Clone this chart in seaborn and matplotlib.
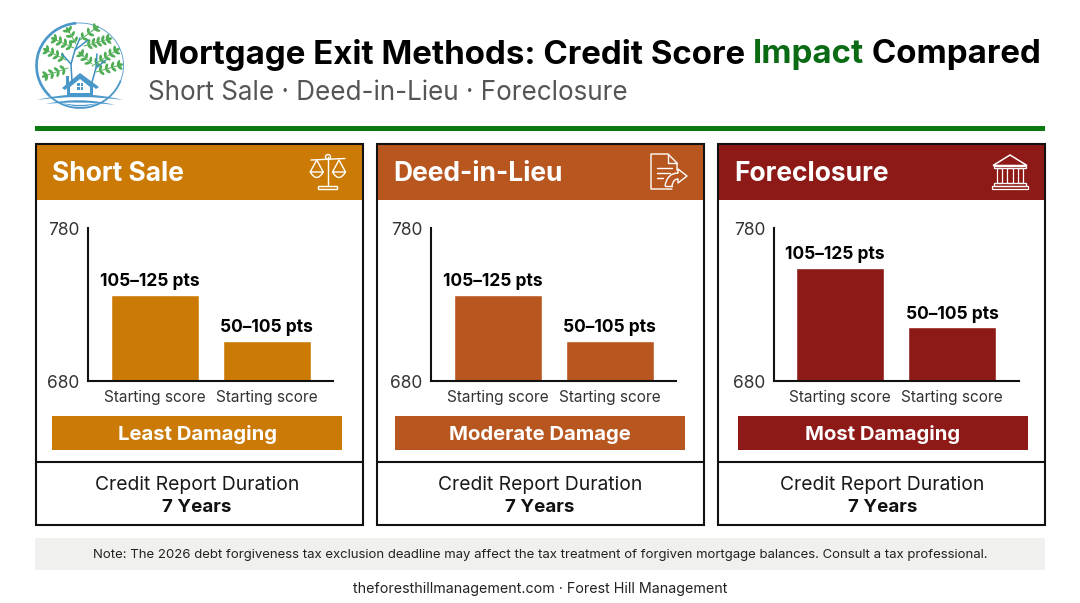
import matplotlib
matplotlib.use("Agg")
import matplotlib.pyplot as plt
from matplotlib.patches import Rectangle, Arc, Ellipse, Polygon, PathPatch
from matplotlib.path import Path
import numpy as np
import seaborn as sns

# Chart content
panel_names = ["Short Sale", "Deed-in-Lieu", "Foreclosure"]
panel_colors = ["#CB7A06", "#B8561F", "#8E1A17"]
severity = ["Least Damaging", "Moderate Damage", "Most Damaging"]
bar_categories = ["Starting score A", "Starting score B"]
tick_names = ["Starting score", "Starting score"]
short_sale_scores = [736, 706]
deed_scores = [736, 706]
foreclosure_scores = [754, 715]
point_labels = ["105–125 pts", "50–105 pts"]
score_ticks = [680, 780]
duration_label = "Credit Report Duration"
duration_value = "7 Years"
title_parts = ["Mortgage Exit Methods: Credit Score ", "Impact", " Compared"]
subtitle = "Short Sale · Deed-in-Lieu · Foreclosure"
note = ("Note: The 2026 debt forgiveness tax exclusion deadline may affect the tax "
        "treatment of forgiven mortgage balances. Consult a tax professional.")
footer = "theforesthillmanagement.com · Forest Hill Management"

W, H = 1080, 603
GREEN = "#0B7A12"
FONT = "Inter"

sns.set_theme(style="white")
plt.rcParams["font.family"] = [FONT, "DejaVu Sans"]

fig = plt.figure(figsize=(W / 100, H / 100), dpi=100, facecolor="white")
canvas = fig.add_axes([0, 0, 1, 1], zorder=0)
canvas.set_xlim(0, W)
canvas.set_ylim(H, 0)
canvas.axis("off")
renderer = fig.canvas.get_renderer()


def fitted(x, y, s, width, ha="left", **kw):
    """Place text whose font size is chosen so it spans the given pixel width."""
    t = canvas.text(x, y, s, ha=ha, va="center", fontsize=10, **kw)
    t.set_fontsize(10 * width / t.get_window_extent(renderer).width)
    return t


def rect(x0, y0, x1, y1, **kw):
    canvas.add_patch(Rectangle((x0, y0), x1 - x0, y1 - y0, **kw))


def line(xs, ys, color="white", lw=1.0):
    canvas.plot(xs, ys, color=color, lw=lw, solid_capstyle="round", solid_joinstyle="round")


def curve(p0, p1, p2, lw=1.0):
    canvas.add_patch(PathPatch(Path([p0, p1, p2], [Path.MOVETO, Path.CURVE3, Path.CURVE3]),
                               fc="none", ec="white", lw=lw))


def sprig(x0, y0, x1, y1, n=5, size=8):
    """A twig with paired leaves along it, ending in one tip leaf."""
    line([x0, x1], [y0, y1], color="#4FAE55", lw=0.7)
    ang = np.degrees(np.arctan2(y1 - y0, x1 - x0))
    for f in np.linspace(0.15, 0.9, n):
        cx, cy = x0 + f * (x1 - x0), y0 + f * (y1 - y0)
        for sgn in (-1, 1):
            a = np.radians(ang + sgn * 55)
            canvas.add_patch(Ellipse((cx + 3 * np.cos(a), cy + 3 * np.sin(a)), size * 0.75, size * 0.36,
                                     angle=ang + sgn * 55, color="#4FAE55", lw=0))
    canvas.add_patch(Ellipse((x1, y1), size * 0.8, size * 0.4, angle=ang, color="#4FAE55", lw=0))


def draw_logo():
    blue = "#4A97C9"
    # the ring is heavy on the left, fading to a hairline at the upper right
    canvas.add_patch(Arc((80, 65.5), 87, 85, theta1=135, theta2=265, color=blue, lw=1.9))
    canvas.add_patch(Arc((80, 65.5), 87, 85, theta1=20, theta2=135, color=blue, lw=1.3))
    canvas.add_patch(Arc((80, 65.5), 87, 85, theta1=265, theta2=380, color=blue, lw=0.6))
    # trunks
    for pts in ([(72, 82), (71, 64), (62, 54)], [(71, 64), (75, 50), (80, 38)],
                [(92, 82), (96, 68), (106, 60)], [(96, 68), (97, 54)], [(75, 50), (88, 40)]):
        xs, ys = zip(*pts)
        line(xs, ys, color="#3F8FBF", lw=1.1)
    # foliage
    sprig(66, 60, 46, 50, n=4)
    sprig(68, 68, 45, 76, n=4)
    sprig(74, 48, 54, 39, n=4)
    sprig(76, 44, 68, 30, n=3)
    sprig(80, 40, 96, 28, n=3)
    sprig(84, 46, 109, 39, n=5)
    sprig(92, 66, 117, 50, n=5)
    sprig(96, 72, 120, 65, n=4)
    sprig(92, 64, 81, 54, n=3)
    # house
    canvas.add_patch(Polygon([(62, 88), (80, 73), (99, 87), (96, 89), (80, 77), (65, 90)],
                             closed=True, fc=blue, ec="none"))
    rect(66, 76, 69, 86, fc=blue, ec="none")
    canvas.add_patch(Polygon([(67, 86), (80, 76), (93, 86), (93, 96), (67, 96)], closed=True, fc=blue, ec="none"))
    canvas.add_patch(Polygon([(70, 87), (80, 79), (90, 87), (90, 93), (70, 93)], closed=True, fc="white", ec="none"))
    for px in (77.2, 80.6):
        for py in (82.5, 86.8):
            rect(px, py, px + 2.6, py + 3.4, fc=blue, ec="none")
    # ground swooshes
    for verts in ([(37, 100), (80, 89), (123, 100), (80, 94), (37, 100)],
                  [(46, 104), (80, 96), (115, 105), (80, 100.5), (46, 104)],
                  [(62, 103), (80, 110), (98, 103), (80, 107), (62, 103)]):
        codes = [Path.MOVETO, Path.CURVE3, Path.CURVE3, Path.CURVE3, Path.CURVE3]
        canvas.add_patch(PathPatch(Path(verts, codes), fc=blue, ec="none"))


def draw_scales():
    line([328, 328], [157, 186])
    line([311, 345], [160, 158.5])
    canvas.add_patch(Ellipse((328, 157), 5, 5, fc="none", ec="white", lw=1))
    for cx in (316.7, 339):
        line([cx - 6.5, cx, cx + 6.5], [172, 160, 172])
        canvas.add_patch(PathPatch(Path([(cx - 6.5, 172), (cx, 183), (cx + 6.5, 172), (cx - 6.5, 172)],
                                        [Path.MOVETO, Path.CURVE3, Path.CURVE3, Path.CLOSEPOLY]),
                                   fc="none", ec="white", lw=1))
    rect(318, 186, 337, 189, fc="none", ec="white", lw=1)


def draw_document():
    line([672, 651, 651, 668, 677, 677], [189, 189, 154, 154, 163, 170])
    line([668, 668, 677], [154, 163, 163])
    for y, x1 in ((168, 672), (173, 670), (178, 663)):
        line([657, x1], [y, y])
    curve((665, 186), (667, 173), (678, 173))
    curve((672, 186), (673, 179), (678, 179))
    line([665, 672], [186, 186])
    line([678, 678, 687, 678, 678], [173, 169, 176, 183, 179])


def draw_bank():
    canvas.add_patch(Polygon([(993, 165.5), (1010, 155), (1027, 165.5)], closed=True, fc="none", ec="white", lw=1.1))
    rect(994, 165.5, 1026, 168, fc="none", ec="white", lw=0.9)
    for x0, x1 in ((997, 1002), (1007, 1013), (1018, 1023)):
        rect(x0, 168, x1, 182.5, fc="none", ec="white", lw=0.9)
    rect(994, 182.5, 1026, 185.5, fc="none", ec="white", lw=0.9)
    rect(992, 186, 1028, 189, fc="none", ec="white", lw=0.9)


# Header
draw_logo()
runs = [canvas.text(0, 55, p, va="center", fontsize=10, fontweight="bold", color=c)
        for p, c in zip(title_parts, ["black", "#0A6B14", "black"])]
for r in runs:
    r.set_text(r.get_text().replace(" ", "\u00a0"))
total = sum(r.get_window_extent(renderer).width for r in runs)
size = 10 * (1040 - 148) / total
x = 148.0
for r in runs:
    r.set_fontsize(size)
    r.set_x(x)
    x += r.get_window_extent(renderer).width
fitted(148, 93, subtitle, 481, color="#555555")
rect(35, 126, 1045, 130.5, fc=GREEN, ec="none")

# Three panels, each with its own score axes
panel_left = [35.5, 377, 718]
content_shift = [0, 343, 685.5]
panel_scores = [short_sale_scores, deed_scores, foreclosure_scores]

for i, name in enumerate(panel_names):
    left, dx, color = panel_left[i], content_shift[i], panel_colors[i]
    right = left + 327
    rect(left, 200, right, 525, fc="white", ec="none")
    rect(left, 144, right, 200, fc=color, ec="none")
    rect(left, 144, right, 525, fc="none", ec="#111111", lw=1.5, zorder=4)
    line([left, right], [462, 462], color="#111111", lw=1.5)
    canvas.text(left + 16.5, 174, name, va="center", ha="left", color="white",
                fontsize=19, fontweight="bold")

    ax = fig.add_axes([(88 + dx) / W, 1 - 381 / H, 245 / W, 153 / H], zorder=2, facecolor="none")
    sns.barplot(x=bar_categories, y=panel_scores[i], color=color, width=0.786, saturation=1, ax=ax)
    ax.set_xlim(-0.595, 1.593)
    ax.set_ylim(score_ticks)
    ax.set_yticks(score_ticks)
    ax.set_xticks([0, 1], tick_names)
    ax.tick_params(axis="both", length=0, labelsize=11.1, colors="#333333")
    ax.tick_params(axis="x", pad=6.5)
    ax.tick_params(axis="y", pad=6, labelsize=12.5)
    sns.despine(ax=ax)
    for side in ("left", "bottom"):
        ax.spines[side].set_linewidth(1.5)
        ax.spines[side].set_color("#111111")
    labels = ax.bar_label(ax.containers[0], labels=point_labels, padding=3.5, fontsize=12.5,
                          fontweight="bold", color="black", clip_on=False)
    labels[0].xyann = (-3.6, labels[0].xyann[1])

    rect(52 + dx, 416, 342 + dx, 450, fc=color, ec="none")
    canvas.text(197 + dx, 435, severity[i], ha="center", va="center", color="white",
                fontsize=14.6, fontweight="bold")
    canvas.text(197 + dx, 485, duration_label, ha="center", va="center", color="#1a1a1a", fontsize=13.9)
    canvas.text(197 + dx, 507.5, duration_value, ha="center", va="center", color="#111111",
                fontsize=13.5, fontweight="bold")

draw_scales()
draw_document()
draw_bank()

# Footnote strip and source line
rect(35, 538, 1045, 570, fc="#F0F0EE", ec="none")
fitted(540, 555, note, 901, ha="center", color="#222222")
fitted(540, 588.5, footer, 376, ha="center", color="#222222")

fig.savefig("out.png", dpi=100, facecolor="white")
